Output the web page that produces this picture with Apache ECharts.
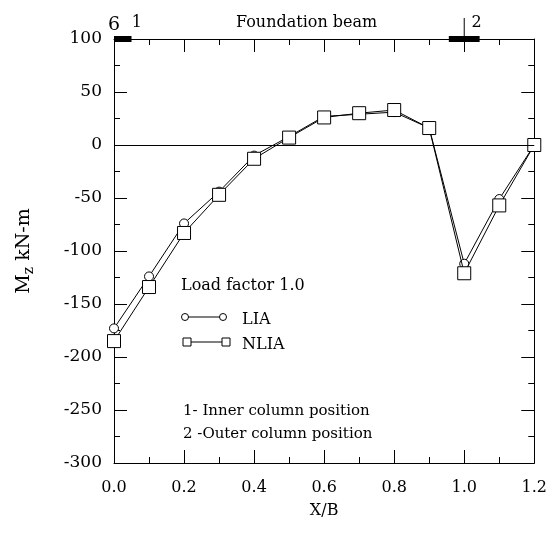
<!DOCTYPE html>
<html><head><meta charset="utf-8">
<script src="https://cdn.jsdelivr.net/npm/echarts@6/dist/echarts.min.js"></script>
<style>html,body{margin:0;padding:0;background:#fff}#c{width:550px;height:537px}</style>
</head><body><div id="c"></div>
<script>
const xValues = [0.0, 0.1, 0.2, 0.3, 0.4, 0.5, 0.6, 0.7, 0.8, 0.9, 1.0, 1.1, 1.2];
const liaValues = [-173, -124, -74, -44, -10, 8, 27, 29, 31, 16, -112, -51, 0];
const nliaValues = [-185, -134, -83, -47, -13, 7, 26, 30, 33, 16, -121, -57, 0];
const seriesNames = ['LIA', 'NLIA'];
const columnBars = [[0.0, 0.05], [0.956, 1.044]];
const FONT = '"DejaVu Serif", "Liberation Serif", serif';

const chart = echarts.init(document.getElementById('c'), null, {renderer: 'canvas'});
const axisCommon = {
  type: 'value',
  axisLine: {show: true, onZero: false, lineStyle: {color: '#000', width: 1}},
  axisTick: {show: true, inside: true, length: 13, lineStyle: {color: '#000'}},
  minorTick: {show: true, splitNumber: 2, length: 6, lineStyle: {color: '#000'}},
  splitLine: {show: false},
  minorSplitLine: {show: false}
};
const option = {
  animation: false,
  backgroundColor: '#fff',
  grid: {left: 114, right: 12, top: 39, bottom: 74, containLabel: false},
  xAxis: [
    Object.assign({}, axisCommon, {
      position: 'bottom', min: 0, max: 1.2, interval: 0.2,
      name: 'X/B', nameLocation: 'middle', nameGap: 40,
      nameTextStyle: {fontFamily: FONT, fontSize: 16, color: '#000'},
      axisLabel: {fontFamily: FONT, fontSize: 16, color: '#000', margin: 17,
        formatter: v => v.toFixed(1)}
    }),
    Object.assign({}, axisCommon, {
      position: 'top', min: 0, max: 1.2, interval: 0.2, axisLabel: {show: false}
    })
  ],
  yAxis: [
    Object.assign({}, axisCommon, {
      position: 'left', min: -300, max: 100, interval: 50,
      axisLabel: {fontFamily: FONT, fontSize: 17, color: '#000', margin: 12}
    }),
    Object.assign({}, axisCommon, {
      position: 'right', min: -300, max: 100, interval: 50, axisLabel: {show: false}
    })
  ],
  series: [
    {
      name: seriesNames[0], type: 'line', xAxisIndex: 0, yAxisIndex: 0,
      data: xValues.map((x, i) => [x, liaValues[i]]),
      symbol: 'circle', symbolSize: 9, showAllSymbol: true,
      itemStyle: {color: '#fff', borderColor: '#000', borderWidth: 1},
      lineStyle: {color: '#000', width: 1},
      z: 3,
      markLine: {
        silent: true, symbol: 'none', label: {show: false},
        lineStyle: {color: '#000', width: 1, type: 'solid'},
        data: [[{coord: [0, 0]}, {coord: [1.2, 0]}]]
      }
    },
    {
      name: seriesNames[1], type: 'line', xAxisIndex: 0, yAxisIndex: 0,
      data: xValues.map((x, i) => [x, nliaValues[i]]),
      symbol: 'rect', symbolSize: 13, showAllSymbol: true,
      itemStyle: {color: '#fff', borderColor: '#000', borderWidth: 1},
      lineStyle: {color: '#000', width: 1},
      z: 4,
      markLine: {
        silent: true, symbol: 'none', label: {show: false},
        lineStyle: {color: '#000', width: 6, type: 'solid'},
        data: columnBars.map(b => [{coord: [b[0], 100]}, {coord: [b[1], 100]}])
      }
    }
  ]
};
chart.setOption(option);

function px(x, y) { return chart.convertToPixel({xAxisIndex: 0, yAxisIndex: 0}, [x, y]); }
const tStyle = (text, size) => ({text: text, fontFamily: FONT, fontSize: size, fill: '#000'});
const p6 = px(0, 100), p1 = px(0.065, 100), pF = px(0.55, 100), p2 = px(1.0, 100), p2t = px(1.035, 100);
const graphics = [
  {type: 'text', x: p6[0], y: p6[1] - 4, style: Object.assign(tStyle('6', 19), {align: 'center', verticalAlign: 'bottom'})},
  {type: 'text', x: p1[0], y: p1[1] - 24, style: Object.assign(tStyle('1', 16), {align: 'center', verticalAlign: 'top'})},
  {type: 'text', x: pF[0], y: pF[1] - 24, style: Object.assign(tStyle('Foundation beam', 16), {align: 'center', verticalAlign: 'top'})},
  {type: 'line', shape: {x1: p2[0], y1: p2[1] - 21, x2: p2[0], y2: p2[1]}, style: {stroke: '#000', lineWidth: 1}},
  {type: 'text', x: p2t[0], y: p2t[1] - 24, style: Object.assign(tStyle('2', 16), {align: 'center', verticalAlign: 'top'})},
  // y axis title
  {type: 'text', x: 24, y: 251, rotation: Math.PI / 2,
    style: {text: '{m|M}{s|z}{m| kN-m}', align: 'center', verticalAlign: 'middle',
      rich: {
        m: {fontFamily: FONT, fontSize: 19, fill: '#000'},
        s: {fontFamily: FONT, fontSize: 14, fill: '#000', padding: [10, 0, 0, 0]}
      }}}
];
// legend block
const legendRows = [
  {y: 317, name: seriesNames[0], sym: 'circle'},
  {y: 342, name: seriesNames[1], sym: 'rect'}
];
graphics.push({type: 'text', x: 181, y: 286, style: Object.assign(tStyle('Load factor 1.0', 16), {align: 'left', verticalAlign: 'middle'})});
legendRows.forEach(r => {
  const xs = r.sym === 'circle' ? [185, 223] : [187, 226];
  graphics.push({type: 'line', shape: {x1: xs[0], y1: r.y, x2: xs[1], y2: r.y}, style: {stroke: '#000', lineWidth: 1}});
  xs.forEach(cx => {
    if (r.sym === 'circle') graphics.push({type: 'circle', shape: {cx: cx, cy: r.y, r: 3.5}, style: {fill: '#fff', stroke: '#000', lineWidth: 1}});
    else graphics.push({type: 'rect', shape: {x: cx - 4, y: r.y - 4, width: 8, height: 8}, style: {fill: '#fff', stroke: '#000', lineWidth: 1}});
  });
  graphics.push({type: 'text', x: 242, y: r.y + 3, style: Object.assign(tStyle(r.name, 16), {align: 'left', verticalAlign: 'middle'})});
});
graphics.push({type: 'text', x: 183, y: 411, style: Object.assign(tStyle('1- Inner column position', 15), {align: 'left', verticalAlign: 'middle'})});
graphics.push({type: 'text', x: 183, y: 434, style: Object.assign(tStyle('2 -Outer column position', 15), {align: 'left', verticalAlign: 'middle'})});
chart.setOption({graphic: graphics});
</script>
</body></html>
